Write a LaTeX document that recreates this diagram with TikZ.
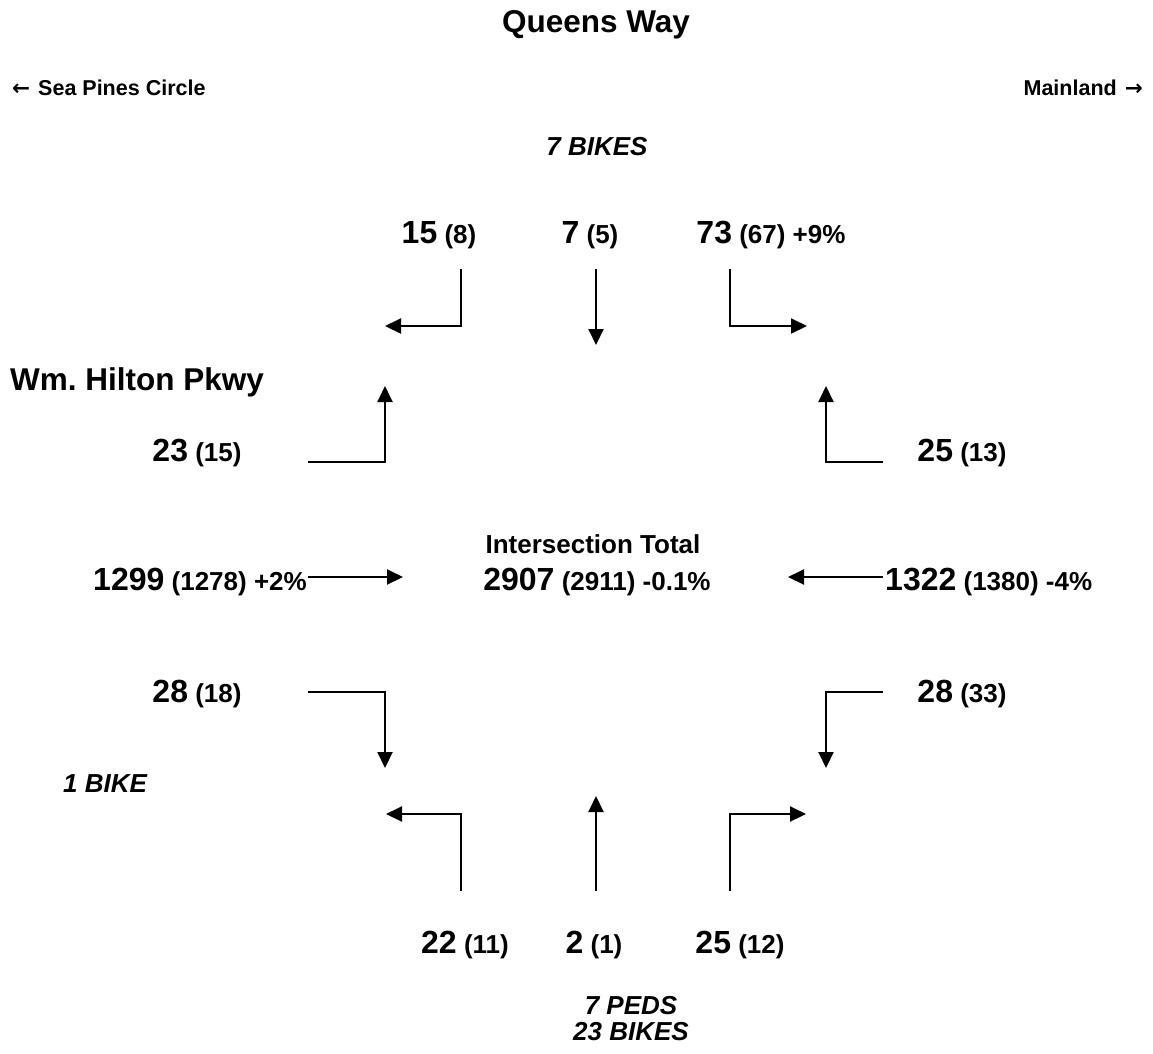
\documentclass[tikz,border=0pt]{standalone}
\usepackage{fontspec}
\setmainfont{Liberation Sans}
\newfontfamily\arrowfont{DejaVu Sans}
\usetikzlibrary{arrows.meta,positioning}
\tikzset{
  basic/.style = {inner sep=0pt, anchor=base, font=\bfseries},
  title/.style = {basic, font=\bfseries\fontsize{31.5}{36}\selectfont},
  road/.style  = {basic, font=\bfseries\fontsize{21.5}{25}\selectfont},
  count/.style = {basic, font=\bfseries\fontsize{26}{30}\selectfont},
  note/.style  = {basic, font=\bfseries\itshape\fontsize{26}{26}\selectfont, align=center},
  move/.style  = {->, line width=2pt}
}
\newcommand{\vol}[2]{{\fontsize{32}{36}\selectfont #1} #2}

\begin{document}
\begin{tikzpicture}[x=1pt, y=-1pt, >={Triangle[length=16pt,width=15pt]}]
\useasboundingbox (0,0) rectangle (1153,1053);

% street names
\node[title] (qw) at (596,32) {Queens Way};
\node[road, anchor=base west] (spc) at (12,95) {{\arrowfont ←}\hspace{8pt}Sea Pines Circle};
\node[road, anchor=base east] (ml) at (1143,95) {Mainland\hspace{8pt}{\arrowfont →}};
\node[title, anchor=base west] (whp) at (10,390) {Wm.\ Hilton Pkwy};

% north approach
\node[note] (nb) at (597,155) {7 BIKES};
\node[count] (nrv) at (439,243) {\vol{15}{(8)}};
\node[count] (ntv) at (590,243) {\vol{7}{(5)}};
\node[count] (nlv) at (771,243) {\vol{73}{(67) +9\%}};
\coordinate (nra) at (461,269); \coordinate (nrb) at (385,326);
\coordinate (nta) at (596,269); \coordinate (ntb) at (596,345);
\coordinate (nla) at (730,269); \coordinate (nlb) at (807,326);

% west approach
\node[count] (wlv) at (197,461) {\vol{23}{(15)}};
\node[count, anchor=base east] (wtv) at (307,590) {\vol{1299}{(1278) +2\%}};
\node[count] (wrv) at (197,702) {\vol{28}{(18)}};
\node[note, anchor=base west] (wb) at (63,792) {1 BIKE};
\coordinate (wla) at (308,462); \coordinate (wlb) at (385,386);
\coordinate (wta) at (308,577); \coordinate (wtb) at (403,577);
\coordinate (wra) at (308,692); \coordinate (wrb) at (385,768);

% east approach
\node[count] (erv) at (962,461) {\vol{25}{(13)}};
\node[count, anchor=base west] (etv) at (885,590) {\vol{1322}{(1380) -4\%}};
\node[count] (elv) at (962,702) {\vol{28}{(33)}};
\coordinate (era) at (883,462); \coordinate (erb) at (826,386);
\coordinate (eta) at (883,577); \coordinate (etb) at (788,577);
\coordinate (ela) at (883,692); \coordinate (elb) at (826,768);

% south approach
\node[count] (slv) at (465,953) {\vol{22}{(11)}};
\node[count] (stv) at (594,953) {\vol{2}{(1)}};
\node[count] (srv) at (740,953) {\vol{25}{(12)}};
\node[note, anchor=north] (sb) at (631,996) {7 PEDS\\23 BIKES};
\coordinate (sla) at (461,891); \coordinate (slb) at (386,814);
\coordinate (sta) at (596,891); \coordinate (stb) at (596,796);
\coordinate (sra) at (730,891); \coordinate (srb) at (806,814);

% total
\node[count] (isect) at (593,553) {Intersection Total};
\node[count] (tot) at (597,590) {\vol{2907}{(2911) -0.1\%}};

\foreach \m in {nr,nl,sl,sr}
  \draw[move] (\m a) |- (\m b);
\foreach \m in {wl,wr,el,er}
  \draw[move] (\m a) -| (\m b);
\foreach \m in {nt,st,wt,et}
  \draw[move] (\m a) -- (\m b);
\end{tikzpicture}
\end{document}
